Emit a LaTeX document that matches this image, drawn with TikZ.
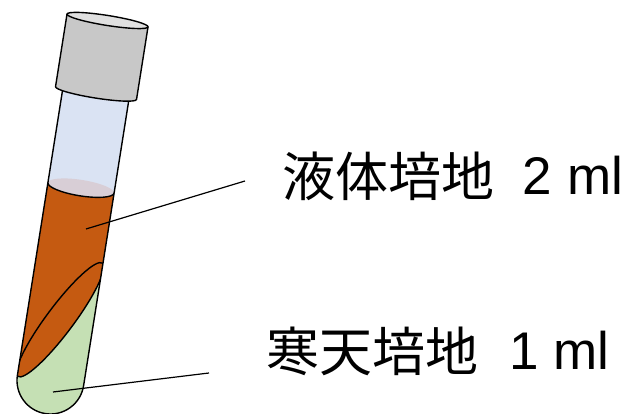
\documentclass[tikz,border=0pt]{standalone}
\usepackage{fontspec}
\setmainfont{Liberation Sans}
\newfontfamily\cjk{Noto Sans CJK JP}
\definecolor{broth}{RGB}{197,90,17}
\definecolor{agar}{RGB}{197,224,180}
\definecolor{glass}{RGB}{218,227,243}
\definecolor{foam}{RGB}{216,206,214}
\definecolor{capgrey}{RGB}{200,200,200}
\definecolor{captop}{RGB}{224,224,224}
% Japanese name in a box of fixed width, so the amount that follows lines up
\newcommand{\medname}[2]{\makebox[#1][l]{\raisebox{-2pt}{\cjk\fontsize{53}{60}\selectfont #2}}}
\begin{document}
\begin{tikzpicture}[x=1pt,y=1pt,
  outline/.style={draw=black,line width=1.4pt,line join=round},
  leader/.style={draw=black,line width=1.2pt},
  label/.style={anchor=base west,inner sep=0pt,font=\fontsize{53}{60}\selectfont}]
\useasboundingbox (0,0) rectangle (627,414);

% test tube, drawn upright in its own frame and tilted
\begin{scope}[shift={(50.5,33.5)},rotate=-9]
  % glass interior
  \fill[glass] (-33.5,300) -- (-33.5,0) arc[start angle=180,end angle=360,radius=33.5]
     -- (33.5,300) -- cycle;
  \begin{scope}
    \clip (-33.5,300) -- (-33.5,0) arc[start angle=180,end angle=360,radius=33.5]
       -- (33.5,300) -- cycle;
    % liquid medium
    \fill[broth] (-40,195) rectangle (40,-40);
    \fill[foam] (0,195) ellipse[x radius=33.5,y radius=8];
    \draw[outline] (-33.5,195) arc[start angle=180,end angle=360,x radius=33.5,y radius=8];
    % agar slant
    \fill[agar] (40,137.3) -- (-40,-14.3) -- (-40,-40) -- (40,-40) -- cycle;
    \fill[broth,rotate around={62.2:(0,61.5)}] (0,61.5) ellipse[x radius=70.7,y radius=13.5];
    \draw[outline,rotate around={62.2:(0,61.5)}] (0,61.5) ellipse[x radius=70.7,y radius=13.5];
  \end{scope}
  % glass wall
  \draw[outline] (-33.5,295) -- (-33.5,0) arc[start angle=180,end angle=360,radius=33.5]
     -- (33.5,295);
  % cap
  \filldraw[outline,fill=capgrey] (-41,364.5) -- (-41,291)
     arc[start angle=180,end angle=360,x radius=41,y radius=5] -- (41,364.5) -- cycle;
  \filldraw[outline,fill=captop] (0,364.5) ellipse[x radius=41,y radius=5];
\end{scope}

% points picked out by the leader lines
\coordinate (liqpt) at (86,185);
\coordinate (agarpt) at (53,22);

% labels
\node[label] (liquid) at (282,219) {\medname{240.7pt}{液体培地}2 ml};
\node[label] (solid) at (266,44) {\medname{243pt}{寒天培地}1 ml};
\coordinate (liqend) at (245,233);
\coordinate (agarend) at (209,41);
\draw[leader] (liqpt) -- (liqend);
\draw[leader] (agarpt) -- (agarend);
\end{tikzpicture}
\end{document}
